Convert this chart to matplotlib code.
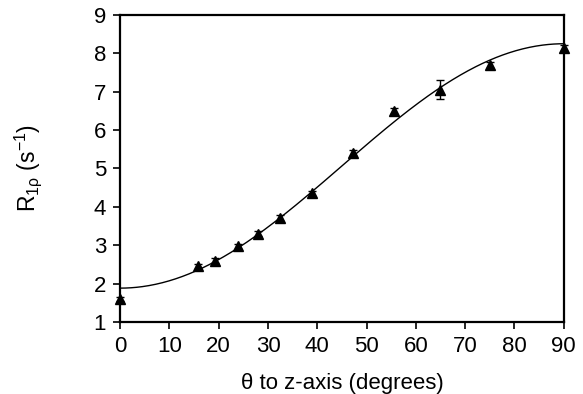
import numpy as np
import matplotlib
matplotlib.use("Agg")
import matplotlib.pyplot as plt

plt.rcParams['font.family'] = ['Liberation Sans', 'DejaVu Sans']
plt.rcParams['mathtext.fontset'] = 'custom'
plt.rcParams['mathtext.rm'] = 'Liberation Sans'
plt.rcParams['mathtext.it'] = 'Liberation Sans'

# data
theta = [0, 15.8, 19.2, 24.0, 28.0, 32.5, 39.0, 47.2, 55.5, 64.8, 75.0, 90.0]
r1rho = [1.6, 2.45, 2.6, 2.97, 3.3, 3.7, 4.35, 5.4, 6.5, 7.05, 7.7, 8.15]
r1rho_err = [0.05, 0.07, 0.06, 0.07, 0.07, 0.08, 0.07, 0.08, 0.08, 0.25, 0.08, 0.08]

# fit curve parameters: R = a + b*sin^2(theta)
fit_a = 1.88
fit_b = 6.37

xticks = [0, 10, 20, 30, 40, 50, 60, 70, 80, 90]
yticks = [1, 2, 3, 4, 5, 6, 7, 8, 9]

fig = plt.figure(figsize=(5.83, 3.94), dpi=100)
ax = fig.add_axes([0.206, 0.183, 0.761, 0.779])

th = np.linspace(0, 90, 400)
ax.plot(th, fit_a + fit_b * np.sin(np.radians(th))**2, color='black', lw=1.0)
ax.errorbar(theta, r1rho, yerr=r1rho_err, fmt='^', color='black', ms=7.5,
            capsize=3, elinewidth=1, capthick=1, clip_on=False, zorder=3)

ax.set_xlim(0, 90)
ax.set_ylim(1, 9)
ax.set_xticks(xticks)
ax.set_yticks(yticks)
ax.tick_params(direction='out', length=5, width=1.2, labelsize=16, pad=5)
for s in ax.spines.values():
    s.set_linewidth(1.6)

ax.set_xlabel(r'θ to z-axis (degrees)', fontsize=16, labelpad=12)
ax.set_ylabel(r'R$_{1\rho}$ (s$^{-1}$)', fontsize=16.5, labelpad=36)

fig.savefig('out.png', dpi=100)
